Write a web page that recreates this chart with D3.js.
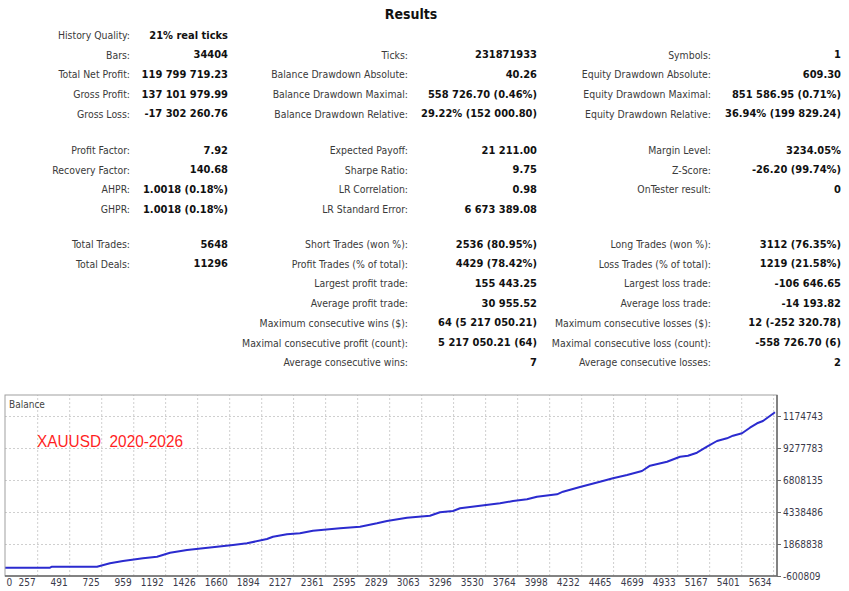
<!DOCTYPE html>
<html>
<head>
<meta charset="utf-8">
<script src="https://cdn.jsdelivr.net/npm/d3@7"></script>
<style>
  html, body { margin: 0; padding: 0; background: #fff; }
  svg { display: block; }
</style>
</head>
<body>
<svg id="report" width="849" height="591"></svg>
<script>
// Strategy tester report: results table + balance graph
const groupA = [
  [['History Quality:', '21% real ticks'], null, null],
  [['Bars:', '34404'], ['Ticks:', '231871933'], ['Symbols:', '1']],
  [['Total Net Profit:', '119 799 719.23'], ['Balance Drawdown Absolute:', '40.26'], ['Equity Drawdown Absolute:', '609.30']],
  [['Gross Profit:', '137 101 979.99'], ['Balance Drawdown Maximal:', '558 726.70 (0.46%)'], ['Equity Drawdown Maximal:', '851 586.95 (0.71%)']],
  [['Gross Loss:', '-17 302 260.76'], ['Balance Drawdown Relative:', '29.22% (152 000.80)'], ['Equity Drawdown Relative:', '36.94% (199 829.24)']]
];
const groupB = [
  [['Profit Factor:', '7.92'], ['Expected Payoff:', '21 211.00'], ['Margin Level:', '3234.05%']],
  [['Recovery Factor:', '140.68'], ['Sharpe Ratio:', '9.75'], ['Z-Score:', '-26.20 (99.74%)']],
  [['AHPR:', '1.0018 (0.18%)'], ['LR Correlation:', '0.98'], ['OnTester result:', '0']],
  [['GHPR:', '1.0018 (0.18%)'], ['LR Standard Error:', '6 673 389.08'], null]
];
const groupC = [
  [['Total Trades:', '5648'], ['Short Trades (won %):', '2536 (80.95%)'], ['Long Trades (won %):', '3112 (76.35%)']],
  [['Total Deals:', '11296'], ['Profit Trades (% of total):', '4429 (78.42%)'], ['Loss Trades (% of total):', '1219 (21.58%)']],
  [null, ['Largest profit trade:', '155 443.25'], ['Largest loss trade:', '-106 646.65']],
  [null, ['Average profit trade:', '30 955.52'], ['Average loss trade:', '-14 193.82']],
  [null, ['Maximum consecutive wins ($):', '64 (5 217 050.21)'], ['Maximum consecutive losses ($):', '12 (-252 320.78)']],
  [null, ['Maximal consecutive profit (count):', '5 217 050.21 (64)'], ['Maximal consecutive loss (count):', '-558 726.70 (6)']],
  [null, ['Average consecutive wins:', '7'], ['Average consecutive losses:', '2']]
];

// balance curve (trade number, balance)
const trades = [0, 351, 365, 694, 789, 884, 1030, 1133, 1228, 1352, 1469, 1571, 1688, 1790, 1936, 1980,
  2082, 2177, 2272, 2470, 2616, 2740, 2813, 2959, 3127, 3200, 3295, 3347, 3493, 3639, 3734, 3836,
  3909, 4055, 4099, 4223, 4369, 4464, 4567, 4676, 4735, 4859, 4954, 5012, 5078, 5151, 5224, 5297,
  5341, 5407, 5465, 5517, 5560, 5648];
const balance = [40000, 40000, 117000, 117000, 379000, 557000, 765000, 889000, 1197000, 1406000,
  1537000, 1660000, 1792000, 1923000, 2255000, 2432000, 2617000, 2695000, 2895000, 3080000, 3204000,
  3466000, 3644000, 3899000, 4053000, 4315000, 4416000, 4624000, 4825000, 5010000, 5187000, 5319000,
  5519000, 5704000, 5905000, 6268000, 6677000, 6939000, 7194000, 7503000, 7912000, 8220000, 8606000,
  8683000, 8915000, 9378000, 9818000, 10026000, 10227000, 10412000, 10844000, 11184000, 11361000, 12033000];

const xTicks = [0, 257, 491, 725, 959, 1192, 1426, 1660, 1894, 2127, 2361, 2595, 2829, 3063, 3296,
  3530, 3764, 3998, 4232, 4465, 4699, 4933, 5167, 5401, 5634];
const yTicks = [-600810, 1868838, 4338486, 6808135, 9277783, 11747431];
const yTickLabels = ['-600809', '1868838', '4338486', '6808135', '9277783', '1174743'];

const svg = d3.select('#report');
const font = "'DejaVu Sans Condensed', 'DejaVu Sans', sans-serif";

// ---- results table ----
svg.append('text')
  .attr('x', 411).attr('y', 14)
  .attr('text-anchor', 'middle').attr('dominant-baseline', 'central')
  .attr('font-family', font).attr('font-size', 14).attr('font-weight', 'bold')
  .attr('fill', '#111')
  .text('Results');

const cols = [{ label: 130, value: 228 }, { label: 408, value: 537 }, { label: 711, value: 841 }];
const step = 19.7;
const groups = [{ rows: groupA, top: 35 }, { rows: groupB, top: 150 }, { rows: groupC, top: 244 }];

const table = svg.append('g').attr('font-family', font);
groups.forEach(g => {
  g.rows.forEach((row, r) => {
    const y = g.top + r * step;
    row.forEach((cell, c) => {
      if (!cell) return;
      table.append('text')
        .attr('x', cols[c].label).attr('y', y)
        .attr('text-anchor', 'end').attr('dominant-baseline', 'central')
        .attr('font-size', 10.4).attr('fill', '#3a3a3a')
        .text(cell[0]);
      table.append('text')
        .attr('x', cols[c].value).attr('y', y)
        .attr('text-anchor', 'end').attr('dominant-baseline', 'central')
        .attr('font-size', 11).attr('font-weight', 'bold').attr('fill', '#111')
        .text(cell[1]);
    });
  });
});

// ---- balance graph ----
const frame = { left: 5, top: 395, right: 777, bottom: 576 };
const x = d3.scaleLinear().domain([0, 5648]).range([2, 775]);
const y = d3.scaleLinear().domain([-600810, 11747431]).range([576, 416]);

svg.append('defs').append('clipPath').attr('id', 'plot-clip')
  .append('rect')
  .attr('x', frame.left).attr('y', frame.top)
  .attr('width', frame.right - frame.left).attr('height', frame.bottom - frame.top);

// grid
const grid = svg.append('g').attr('clip-path', 'url(#plot-clip)');
grid.append('g')
  .attr('transform', `translate(0,${frame.bottom})`)
  .call(d3.axisBottom(x).tickValues(xTicks.slice(1)).tickSize(-(frame.bottom - frame.top)).tickFormat(''))
  .call(g => g.select('.domain').remove())
  .call(g => g.selectAll('line').attr('stroke', '#cfcfcf').attr('stroke-dasharray', '2,2'));
grid.append('g')
  .attr('transform', `translate(${frame.left},0)`)
  .call(d3.axisRight(y).tickValues(yTicks.slice(1)).tickSize(frame.right - frame.left).tickFormat(''))
  .call(g => g.select('.domain').remove())
  .call(g => g.selectAll('line').attr('stroke', '#cfcfcf').attr('stroke-dasharray', '2,2'));

// balance line
const line = d3.line().x(d => x(d[0])).y(d => y(d[1]));
svg.append('path')
  .datum(trades.map((t, i) => [t, balance[i]]))
  .attr('clip-path', 'url(#plot-clip)')
  .attr('fill', 'none')
  .attr('stroke', '#2b2bcf')
  .attr('stroke-width', 2)
  .attr('stroke-linejoin', 'round')
  .attr('d', line);

// frame
svg.append('rect')
  .attr('x', frame.left).attr('y', frame.top)
  .attr('width', frame.right - frame.left).attr('height', frame.bottom - frame.top)
  .attr('fill', 'none').attr('stroke', '#a0a0a0').attr('stroke-width', 1);
svg.append('path')
  .attr('d', `M${frame.left},${frame.bottom}H${frame.right}V${frame.top}`)
  .attr('fill', 'none').attr('stroke', '#6a6a6a').attr('stroke-width', 1.5);

// right axis
const yAxis = svg.append('g')
  .attr('transform', `translate(${frame.right},0)`)
  .call(d3.axisRight(y).tickValues(yTicks).tickSize(4).tickPadding(2)
    .tickFormat((d, i) => yTickLabels[i]));
yAxis.select('.domain').remove();
yAxis.selectAll('line').attr('stroke', '#6a6a6a');
yAxis.selectAll('text')
  .attr('font-family', font).attr('font-size', 10).attr('fill', '#3a3a4a');

// bottom axis
const xAxis = svg.append('g')
  .attr('transform', `translate(0,${frame.bottom})`)
  .call(d3.axisBottom(x).tickValues(xTicks).tickSize(0).tickPadding(3).tickFormat(d3.format('d')));
xAxis.select('.domain').remove();
xAxis.selectAll('text')
  .attr('font-family', font).attr('font-size', 10).attr('fill', '#3a3a4a')
  .attr('text-anchor', (d, i) => i === 0 ? 'start' : 'end')
  .attr('dx', (d, i) => i === 0 ? 4 : -2);

// captions
svg.append('text')
  .attr('x', 9).attr('y', 404)
  .attr('dominant-baseline', 'central')
  .attr('font-family', font).attr('font-size', 10).attr('fill', '#444')
  .text('Balance');
svg.append('text')
  .attr('x', 37).attr('y', 441)
  .attr('dominant-baseline', 'central')
  .attr('font-family', "'Liberation Sans', Arial, sans-serif").attr('font-size', 17)
  .attr('textLength', 146).attr('lengthAdjust', 'spacingAndGlyphs')
  .attr('fill', '#ff1f1f')
  .style('white-space', 'pre')
  .text('XAUUSD  2020-2026');
</script>
</body>
</html>
